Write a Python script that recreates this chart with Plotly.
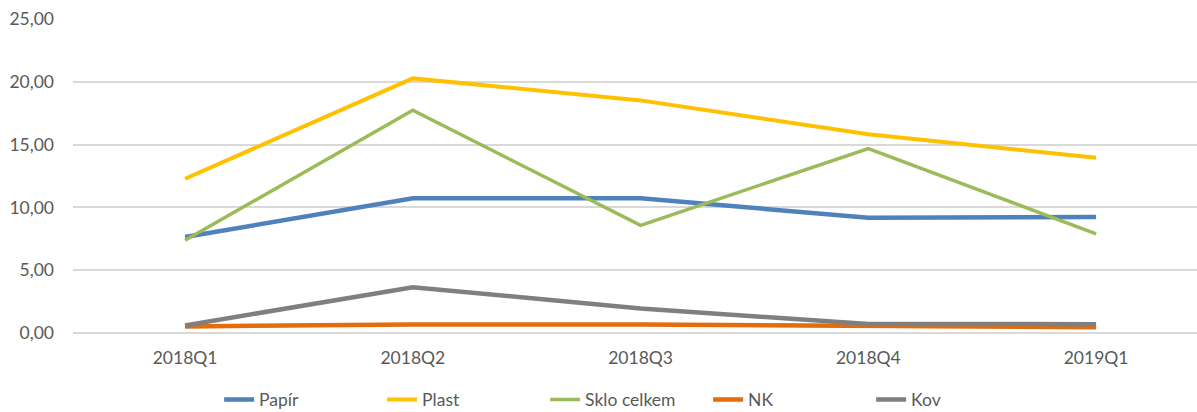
import plotly.graph_objects as go

quarters = ["2018Q1", "2018Q2", "2018Q3", "2018Q4", "2019Q1"]
papir = [7.65, 10.72, 10.72, 9.18, 9.23]
plast = [12.28, 20.27, 18.52, 15.82, 13.96]
sklo = [7.38, 17.73, 8.57, 14.68, 7.90]
nk = [0.52, 0.68, 0.68, 0.58, 0.45]
kov = [0.60, 3.65, 1.95, 0.72, 0.70]

series = [
    ("Papír", papir, "#4F81BD", 4.5),
    ("Plast", plast, "#FFC000", 4),
    ("Sklo celkem", sklo, "#9BBB59", 3.5),
    ("NK", nk, "#E46C0A", 4.5),
    ("Kov", kov, "#7F7F7F", 4.5),
]

fig = go.Figure()
for name, vals, color, width in series:
    fig.add_trace(go.Scatter(
        x=quarters, y=vals, mode="lines", name=name,
        line=dict(color=color, width=width),
    ))

fig.update_layout(
    width=1197, height=412,
    margin=dict(l=73, r=0, t=19, b=79, autoexpand=False),
    paper_bgcolor="white", plot_bgcolor="white",
    font=dict(family="Lato, Open Sans, sans-serif", size=15, color="#595959"),
    separators=", ",
    showlegend=True,
    legend=dict(
        orientation="h", x=0.13, xanchor="left",
        yref="container", y=0.03, yanchor="middle",
        font=dict(size=17.5, color="#595959"),
        entrywidth=118, entrywidthmode="pixels",
    ),
)
fig.update_xaxes(
    type="category", range=[-0.492, 4.443],
    showgrid=False, showline=False, zeroline=False,
    ticks="", ticklabelstandoff=12, tickfont=dict(size=17.5),
)
fig.update_yaxes(
    range=[0, 25], dtick=5, tickformat=".2f",
    showgrid=True, gridcolor="#D9D9D9", gridwidth=1.5,
    zeroline=True, zerolinecolor="#D9D9D9", zerolinewidth=1.5,
    showline=False, ticks="", ticklabelstandoff=18, tickfont=dict(size=17.5),
)

fig.write_html("out.html", config={"displayModeBar": False},
               post_script="document.body.style.margin='0';")
